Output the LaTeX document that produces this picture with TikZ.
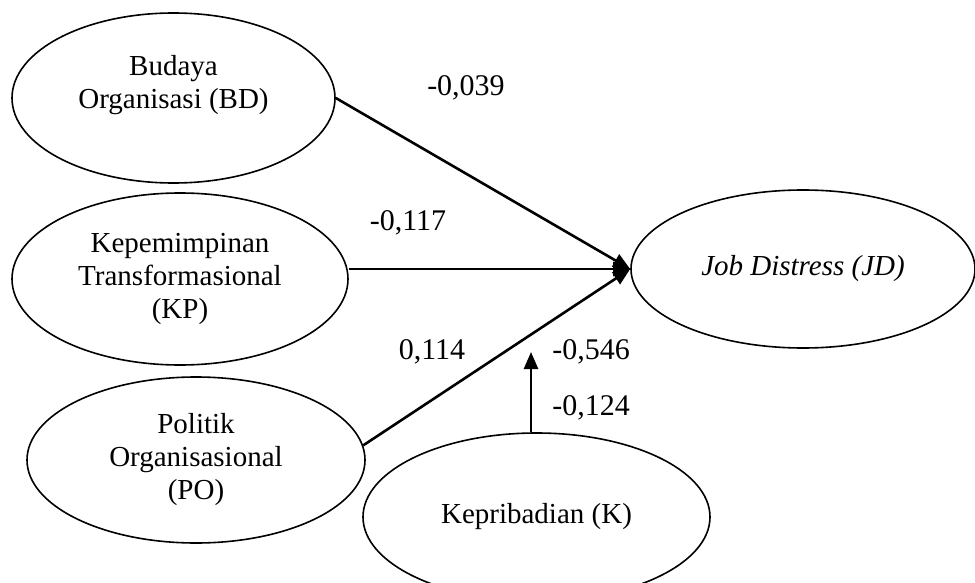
\documentclass[tikz,border=0pt]{standalone}
\usepackage{fontspec}
\setmainfont{Liberation Serif}
\usetikzlibrary{shapes.geometric,arrows.meta}
\begin{document}
\begin{tikzpicture}[x=1pt,y=-1pt,
  latent/.style={ellipse,draw,line width=1.6pt,inner sep=0pt,align=center,font=\fontsize{29}{33}\selectfont},
  pathline/.style={line width=2.6pt,-{Triangle[length=17pt,width=14pt]}},
  coef/.style={font=\fontsize{30}{34}\selectfont,inner sep=0pt}]
\useasboundingbox (0,0) rectangle (975,583);
\node[latent,minimum width=323pt,minimum height=170pt] (BD) at (173.5,98) {Budaya\\Organisasi (BD)\\~};
\node[latent,minimum width=336pt,minimum height=172pt] (KP) at (180,279) {Kepemimpinan\\Transformasional\\(KP)};
\node[latent,minimum width=338pt,minimum height=166pt] (PO) at (196,460) {Politik\\Organisasional\\(PO)};
\node[latent,minimum width=347pt,minimum height=168pt] (K) at (536.5,517) {Kepribadian (K)};
\node[latent,minimum width=344pt,minimum height=158pt] (JD) at (803,269) {\itshape Job Distress (JD)};
\coordinate (kt) at (531,352);
\draw[pathline] (BD.east) -- (JD.west);
\draw[pathline] (JD.west -| KP.east) -- (JD.west);
\draw[pathline] (PO.5) -- (JD.west);
\draw[pathline] (K.north -| kt) -- (kt);
\node[coef] (c1) at (466,88) {-0,039};
\node[coef] (c2) at (408,223) {-0,117};
\node[coef] (c3) at (432,352) {0,114};
\node[coef] (c4) at (591,352) {-0,546};
\node[coef] (c5) at (591,408) {-0,124};
\end{tikzpicture}
\end{document}
